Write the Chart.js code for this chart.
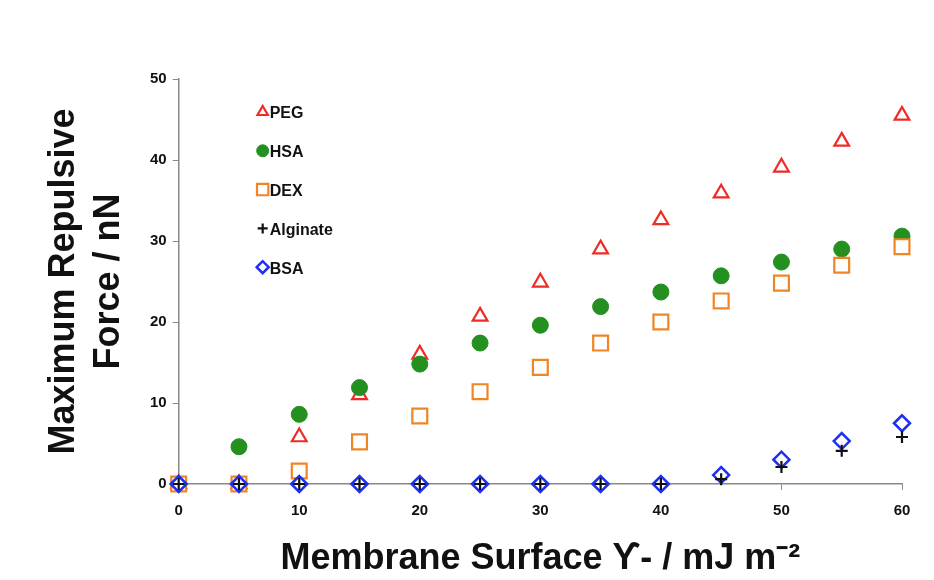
<!DOCTYPE html>
<html>
<head>
<meta charset="utf-8">
<script src="https://cdn.jsdelivr.net/npm/chart.js@4/dist/chart.umd.min.js"></script>
<style>
html,body{margin:0;padding:0;background:#fff;}
#wrap{width:934px;height:580px;}
</style>
</head>
<body>
<div id="wrap"><canvas id="c" width="934" height="580"></canvas></div>
<script>
const xValues = [0, 5, 10, 15, 20, 25, 30, 35, 40, 45, 50, 55, 60];
const pegValues = [0, 0, 5.8, 11.0, 16.0, 20.7, 24.9, 29.0, 32.6, 35.9, 39.1, 42.3, 45.5];
const hsaValues = [0, 4.6, 8.6, 11.9, 14.8, 17.4, 19.6, 21.9, 23.7, 25.7, 27.4, 29.0, 30.6];
const dexValues = [0, 0, 1.6, 5.2, 8.4, 11.4, 14.4, 17.4, 20.0, 22.6, 24.8, 27.0, 29.3];
const alginateValues = [0, 0, 0, 0, 0, 0, 0, 0, 0, 0.6, 2.1, 4.1, 5.8];
const bsaValues = [0, 0, 0, 0, 0, 0, 0, 0, 0, 1.1, 3.0, 5.3, 7.5];
const seriesLabels = ['PEG', 'HSA', 'DEX', 'Alginate', 'BSA'];
const xTicks = [0, 10, 20, 30, 40, 50, 60];
const yTicks = [0, 10, 20, 30, 40, 50];

const FONT = '"Liberation Sans", Arial, Helvetica, sans-serif';

function pts(vals){ return xValues.map((x,i)=>({x:x, y:vals[i]})); }

const styles = [
  {pointStyle:'triangle', borderColor:'#ee2b24', backgroundColor:'#ffffff', radius:8.5, borderWidth:2.2, order:4, lr:6},
  {pointStyle:'circle', borderColor:'#23901f', backgroundColor:'#23901f', radius:8, borderWidth:1, order:3, lr:6},
  {pointStyle:'rect', borderColor:'#f08526', backgroundColor:'#ffffff', radius:10.5, borderWidth:2.2, order:2, lr:8},
  {pointStyle:'cross', borderColor:'#111111', backgroundColor:'#111111', radius:6, borderWidth:2.2, order:0, lr:5},
  {pointStyle:'rectRot', borderColor:'#1c2ff2', backgroundColor:'#ffffff', radius:8, borderWidth:2.5, order:1, lr:6}
];
const allValues = [pegValues, hsaValues, dexValues, alginateValues, bsaValues];

const datasets = allValues.map((v,i)=>({
  label: seriesLabels[i],
  data: pts(v),
  showLine: false,
  pointStyle: styles[i].pointStyle,
  pointRadius: styles[i].radius,
  pointHoverRadius: styles[i].radius,
  pointBorderColor: styles[i].borderColor,
  pointBackgroundColor: styles[i].backgroundColor,
  pointBorderWidth: styles[i].borderWidth,
  borderColor: styles[i].borderColor,
  backgroundColor: styles[i].backgroundColor,
  order: styles[i].order,
  clip: false
}));

const legendPlugin = {
  id: 'insideLegend',
  afterDraw(chart){
    const ctx = chart.ctx;
    const ca = chart.chartArea;
    const x0 = ca.left + 84;
    const y0 = ca.top + 33;
    const gap = 38.8;
    ctx.save();
    seriesLabels.forEach((lab,i)=>{
      const y = y0 + i*gap;
      const s = styles[i];
      ctx.fillStyle = s.backgroundColor;
      ctx.strokeStyle = s.borderColor;
      ctx.lineWidth = s.borderWidth;
      Chart.helpers.drawPoint(ctx, {pointStyle:s.pointStyle, radius: s.lr, borderWidth:s.borderWidth, rotation:0}, x0, y);
      ctx.fillStyle = '#111';
      ctx.font = 'bold 16px ' + FONT;
      ctx.textBaseline = 'middle';
      ctx.textAlign = 'left';
      ctx.fillText(lab, x0 + 7, y + 2);
    });
    ctx.restore();
  }
};

new Chart(document.getElementById('c'), {
  type: 'scatter',
  data: { datasets },
  options: {
    responsive: false,
    animation: false,
    devicePixelRatio: 1,
    layout: { padding: { left: 42, right: 32, top: 79, bottom: 3 } },
    plugins: { legend: { display: false }, tooltip: { enabled: false } },
    scales: {
      x: {
        type: 'linear', min: 0, max: 60,
        afterBuildTicks: (s)=>{ s.ticks = xTicks.map(v=>({value:v})); },
        grid: { display: true, drawOnChartArea: false, drawTicks: true, tickLength: 6, color: '#888' },
        border: { display: true, color: '#888', width: 1.5 },
        ticks: { color: '#111', font: { family: FONT, size: 15, weight: 'bold' }, padding: 12 },
        title: { display: true, text: 'Membrane Surface ϒ- / mJ m⁻²', color: '#111', font: { family: FONT, size: 36, weight: 'bold', lineHeight: 1.0 }, padding: { top: 9, bottom: 0 } }
      },
      y: {
        type: 'linear', min: 0, max: 50,
        afterBuildTicks: (s)=>{ s.ticks = yTicks.map(v=>({value:v})); },
        grid: { display: true, drawOnChartArea: false, drawTicks: true, tickLength: 6, color: '#888' },
        border: { display: true, color: '#888', width: 1.5 },
        ticks: { color: '#111', font: { family: FONT, size: 15, weight: 'bold' }, padding: 6 },
        title: { display: true, text: ['Maximum Repulsive', 'Force / nN'], color: '#111', font: { family: FONT, size: 36, weight: 'bold', lineHeight: 1.25 }, padding: { top: 0, bottom: 12 } }
      }
    }
  },
  plugins: [legendPlugin]
});
</script>
</body>
</html>
